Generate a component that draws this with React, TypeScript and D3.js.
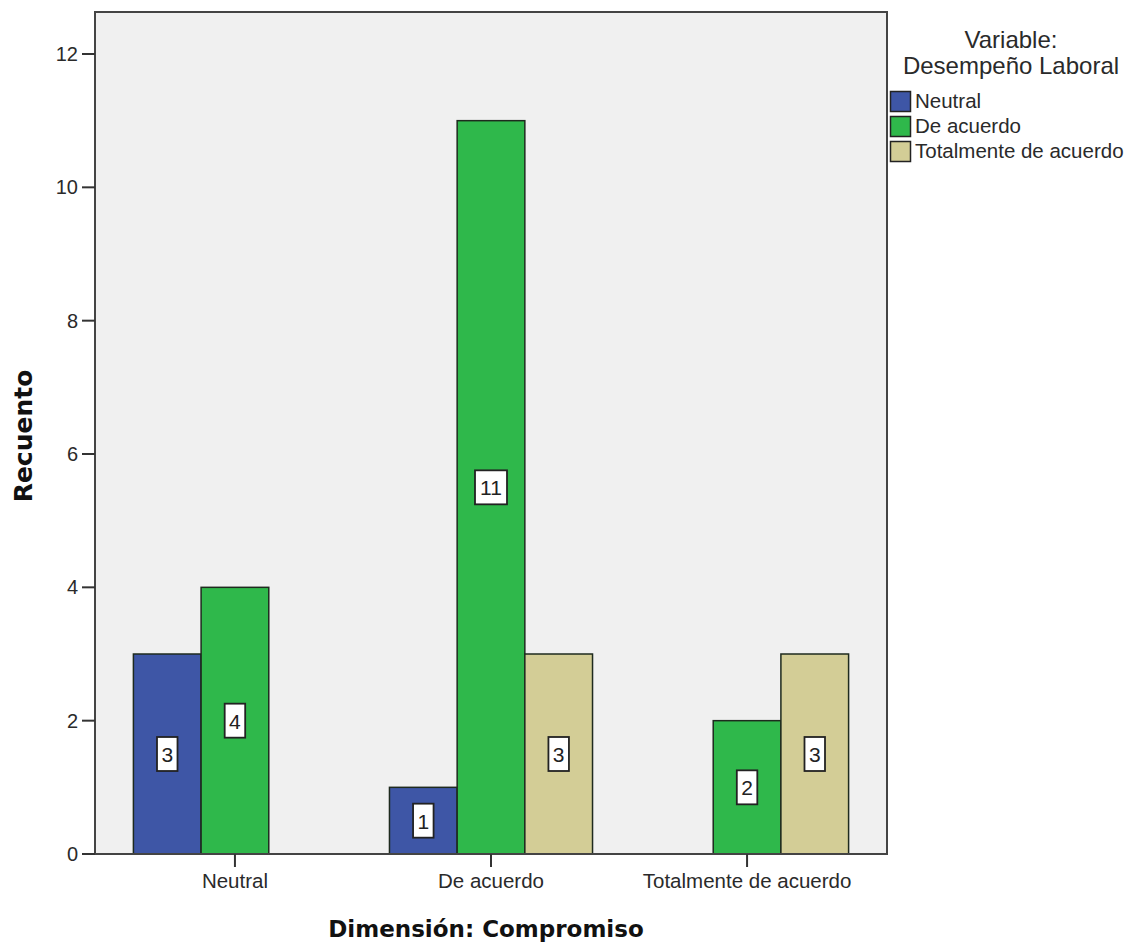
import React from "react";
import * as d3 from "d3";

// Categories of the x dimension and the grouping variable
const categories = ["Neutral", "De acuerdo", "Totalmente de acuerdo"];
const seriesNames = ["Neutral", "De acuerdo", "Totalmente de acuerdo"];
const seriesColors = ["#3e56a6", "#2fb84b", "#d3cd96"];

// Counts per category, one array per series (null = no bar)
const neutralCounts: (number | null)[] = [3, 1, null];
const deAcuerdoCounts: (number | null)[] = [4, 11, 2];
const totalmenteCounts: (number | null)[] = [null, 3, 3];

const yTicks = [0, 2, 4, 6, 8, 10, 12];

const W = 1131;
const H = 942;
const plot = { left: 95, right: 887, top: 12, bottom: 854 };

export default function App() {
  const series = [neutralCounts, deAcuerdoCounts, totalmenteCounts];

  const x = d3
    .scaleBand<string>()
    .domain(categories)
    .range([plot.left, plot.right])
    .paddingInner(0.207)
    .paddingOuter(0.15);

  const xs = d3
    .scaleBand<string>()
    .domain(seriesNames)
    .range([0, x.bandwidth()]);

  const y = d3.scaleLinear().domain([0, 12.63]).range([plot.bottom, plot.top]);

  const sans = "'Liberation Sans', Arial, sans-serif";
  const bold = "'DejaVu Sans', Verdana, sans-serif";

  const bars: React.ReactNode[] = [];
  const labels: React.ReactNode[] = [];
  categories.forEach((cat, ci) => {
    seriesNames.forEach((s, si) => {
      const v = series[si][ci];
      if (v == null) return;
      const bx = (x(cat) ?? 0) + (xs(s) ?? 0);
      const bw = xs.bandwidth();
      bars.push(
        <rect
          key={`b-${ci}-${si}`}
          x={bx}
          y={y(v)}
          width={bw}
          height={y(0) - y(v)}
          fill={seriesColors[si]}
          stroke="#1e2a1e"
          strokeWidth={1.5}
        />
      );
      const txt = String(v);
      const boxW = txt.length * 11.5 + 9;
      const boxH = 34;
      const cx = bx + bw / 2;
      const cy = y(v / 2);
      labels.push(
        <g key={`l-${ci}-${si}`}>
          <rect
            x={cx - boxW / 2}
            y={cy - boxH / 2}
            width={boxW}
            height={boxH}
            fill="#ffffff"
            stroke="#222"
            strokeWidth={1.8}
          />
          <text
            x={cx}
            y={cy + 8}
            textAnchor="middle"
            fontFamily={sans}
            fontSize={21}
            fill="#222"
          >
            {txt}
          </text>
        </g>
      );
    });
  });

  return (
    <svg
      width={W}
      height={H}
      style={{ position: "absolute", left: 0, top: 0, display: "block", background: "#fff" }}
    >
      {/* plot background */}
      <rect
        x={plot.left}
        y={plot.top}
        width={plot.right - plot.left}
        height={plot.bottom - plot.top}
        fill="#f0f0f0"
      />
      {bars}
      {labels}
      {/* frame */}
      <rect
        x={plot.left}
        y={plot.top}
        width={plot.right - plot.left}
        height={plot.bottom - plot.top}
        fill="none"
        stroke="#444"
        strokeWidth={2}
      />

      {/* y axis ticks */}
      {yTicks.map((t) => (
        <g key={`yt-${t}`}>
          <line x1={plot.left - 13} x2={plot.left} y1={y(t)} y2={y(t)} stroke="#333" strokeWidth={2} />
          <text
            x={plot.left - 17}
            y={y(t) + 7}
            textAnchor="end"
            fontFamily={sans}
            fontSize={20}
            fill="#2a2a2a"
          >
            {t}
          </text>
        </g>
      ))}

      {/* x axis ticks */}
      {categories.map((c) => {
        const cx = (x(c) ?? 0) + x.bandwidth() / 2;
        return (
          <g key={`xt-${c}`}>
            <line x1={cx} x2={cx} y1={plot.bottom} y2={plot.bottom + 13} stroke="#333" strokeWidth={2} />
            <text
              x={cx}
              y={plot.bottom + 34}
              textAnchor="middle"
              fontFamily={sans}
              fontSize={20.5}
              fill="#2a2a2a"
            >
              {c}
            </text>
          </g>
        );
      })}

      {/* axis titles */}
      <text
        x={486}
        y={937}
        textAnchor="middle"
        fontFamily={bold}
        fontWeight="bold"
        fontSize={23}
        fill="#111"
      >
        Dimensión: Compromiso
      </text>
      <text
        transform={`translate(32, 436) rotate(-90)`}
        textAnchor="middle"
        fontFamily={bold}
        fontWeight="bold"
        fontSize={25}
        fill="#111"
      >
        Recuento
      </text>

      {/* legend */}
      <text x={1011} y={48} textAnchor="middle" fontFamily={sans} fontSize={24} fill="#2a2a2a">
        Variable:
      </text>
      <text x={1011} y={74} textAnchor="middle" fontFamily={sans} fontSize={24} fill="#2a2a2a">
        Desempeño Laboral
      </text>
      {seriesNames.map((s, i) => (
        <g key={`lg-${s}`} transform={`translate(890, ${91 + i * 25})`}>
          <rect x={0.5} y={0.5} width={20} height={20} fill={seriesColors[i]} stroke="#222" strokeWidth={1.5} />
          <text x={25} y={17} fontFamily={sans} fontSize={20.5} fill="#2a2a2a">
            {s}
          </text>
        </g>
      ))}
    </svg>
  );
}
